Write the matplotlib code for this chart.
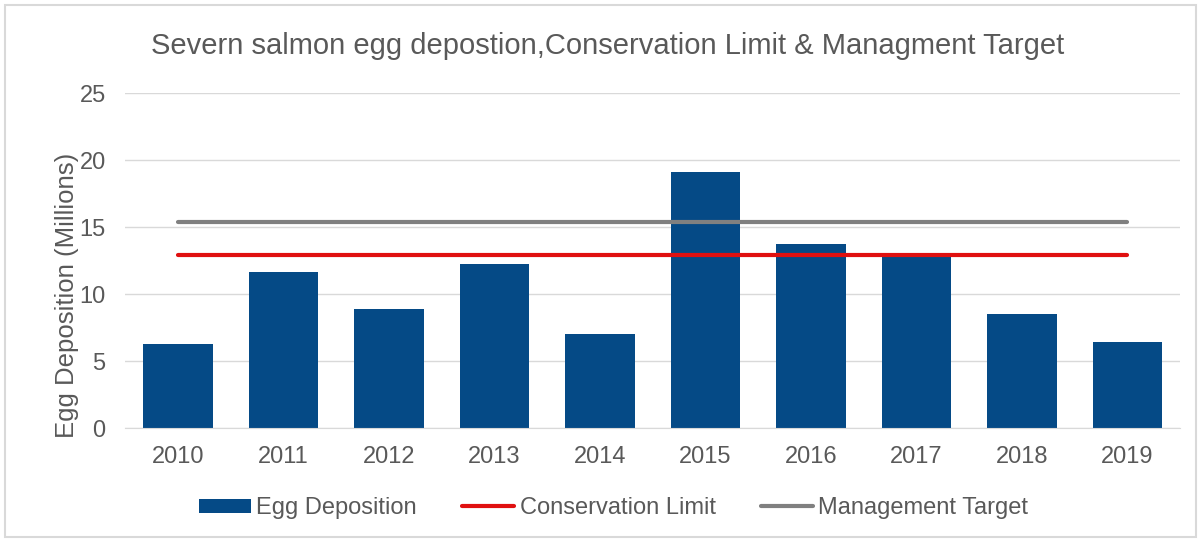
import numpy as np
import matplotlib
matplotlib.use("Agg")
from matplotlib import pyplot as plt
from matplotlib.patches import Patch, Rectangle
from matplotlib.lines import Line2D

plt.rcParams['font.family'] = ['Liberation Sans', 'DejaVu Sans']

# data
years = ['2010', '2011', '2012', '2013', '2014', '2015', '2016', '2017', '2018', '2019']
egg_deposition = [6.3, 11.65, 8.9, 12.25, 7.05, 19.1, 13.75, 13.05, 8.5, 6.45]
conservation_limit = [12.9] * len(years)
management_target = [15.37] * len(years)
yticks = [0, 5, 10, 15, 20, 25]

bar_col = '#054A86'
red_col = '#E01010'
grey_col = '#808080'
text_col = '#595959'

fig = plt.figure(figsize=(12.03, 5.42), dpi=100)
ax = fig.add_axes([0.104, 0.2103, 0.877, 0.618])

x = np.arange(len(years))
ax.bar(x, egg_deposition, width=0.66, color=bar_col, zorder=2)
ax.plot(x, conservation_limit, color=red_col, lw=3, solid_capstyle='round', zorder=3)
ax.plot(x, management_target, color=grey_col, lw=3, solid_capstyle='round', zorder=3)

ax.set_xlim(-0.5, len(years) - 0.5)
ax.set_ylim(0, 25)
ax.set_yticks(yticks)
ax.set_xticks(x)
ax.set_xticklabels(years)
ax.grid(axis='y', color='#D9D9D9', lw=1, zorder=0)
ax.set_axisbelow(True)
for s in ['top', 'right', 'left']:
    ax.spines[s].set_visible(False)
ax.spines['bottom'].set_color('#D9D9D9')
ax.tick_params(axis='both', length=0, labelsize=17, labelcolor=text_col)
ax.tick_params(axis='y', pad=14)
ax.tick_params(axis='x', pad=13)

fig.text(0.505, 0.915, 'Severn salmon egg depostion,Conservation Limit & Managment Target',
         ha='center', va='center', fontsize=21, color=text_col)
fig.text(0.056, 1 - 295 / 542, 'Egg Deposition (Millions)', rotation=90,
         ha='center', va='center', fontsize=18.5, color=text_col)

handles = [Patch(facecolor=bar_col, edgecolor='none'),
           Line2D([], [], color=red_col, lw=3, solid_capstyle='round'),
           Line2D([], [], color=grey_col, lw=3, solid_capstyle='round')]
labels = ['Egg Deposition', 'Conservation Limit', 'Management Target']
fig.legend(handles, labels, loc='center', bbox_to_anchor=(0.510, 1 - 508 / 542), ncol=3,
           frameon=False, fontsize=17, labelcolor=text_col, handlelength=2.2,
           handletextpad=0.25, columnspacing=1.9, handleheight=0.55)

fig.patches.append(Rectangle((5 / 1203, 5 / 542), 1191 / 1203, 532 / 542, transform=fig.transFigure,
                             fill=False, edgecolor='#D9D9D9', lw=1.5))

fig.savefig('out.png', dpi=100)
